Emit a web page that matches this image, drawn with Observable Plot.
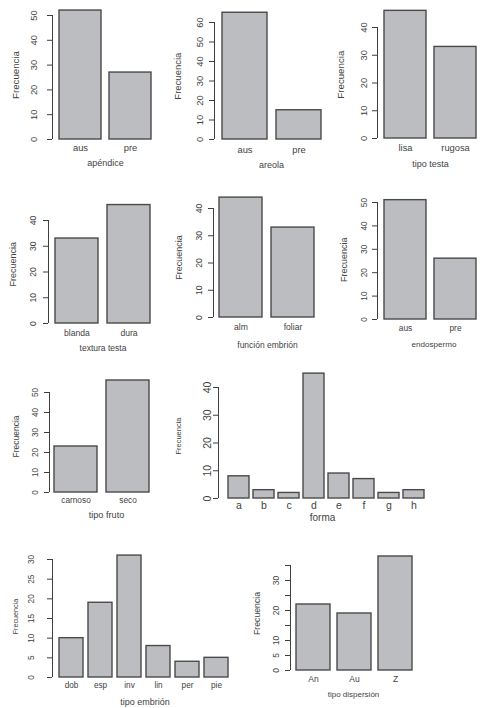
<!DOCTYPE html>
<html>
<head>
<meta charset="utf-8">
<script src="https://cdn.jsdelivr.net/npm/d3@7"></script>
<script src="https://cdn.jsdelivr.net/npm/@observablehq/plot@0.6"></script>
<style>
html, body { margin: 0; padding: 0; background: #fff; }
#page { position: relative; width: 492px; height: 708px; overflow: hidden; }
</style>
</head>
<body>
<div id="page"></div>
<script>
// ---- data ----
const yAxisTitle = "Frecuencia";

const apendiceTitle = "apéndice";
const apendiceCats = ["aus", "pre"];
const apendiceVals = [52, 27];
const apendiceTicks = [0, 10, 20, 30, 40, 50];

const areolaTitle = "areola";
const areolaCats = ["aus", "pre"];
const areolaVals = [65, 15];
const areolaTicks = [0, 10, 20, 30, 40, 50, 60];

const testaTitle = "tipo testa";
const testaCats = ["lisa", "rugosa"];
const testaVals = [46, 33];
const testaTicks = [0, 10, 20, 30, 40];

const texturaTitle = "textura testa";
const texturaCats = ["blanda", "dura"];
const texturaVals = [33, 46];
const texturaTicks = [0, 10, 20, 30, 40];

const funcionTitle = "función embrión";
const funcionCats = ["alm", "foliar"];
const funcionVals = [44, 33];
const funcionTicks = [0, 10, 20, 30, 40];

const endospermoTitle = "endospermo";
const endospermoCats = ["aus", "pre"];
const endospermoVals = [51, 26];
const endospermoTicks = [0, 10, 20, 30, 40, 50];

const frutoTitle = "tipo fruto";
const frutoCats = ["carnoso", "seco"];
const frutoVals = [23, 56];
const frutoTicks = [0, 10, 20, 30, 40, 50];

const formaTitle = "forma";
const formaCats = ["a", "b", "c", "d", "e", "f", "g", "h"];
const formaVals = [8, 3, 2, 45, 9, 7, 2, 3];
const formaTicks = [0, 10, 20, 30, 40];

const embrionTitle = "tipo embrión";
const embrionCats = ["dob", "esp", "inv", "lin", "per", "pie"];
const embrionVals = [10, 19, 31, 8, 4, 5];
const embrionTicks = [0, 5, 10, 15, 20, 25, 30];

const dispersionTitle = "tipo dispersión";
const dispersionCats = ["An", "Au", "Z"];
const dispersionVals = [22, 19, 38];
const dispersionTicks = [0, 5, 10, 15, 20, 25, 30, 35];
const dispersionTickLabels = [0, 5, 10, 20, 30];

// ---- layout (page pixels) ----
const W = 492, H = 708;
const FONT = "'Liberation Sans', Arial, Helvetica, sans-serif";
const panels = [
  {title: apendiceTitle, cats: apendiceCats, vals: apendiceVals, ticks: apendiceTicks,
   axisX: 52, y0: 139, k: 2.48, L: 59, R: 151, labDy: 8, titleDy: 24, titleDx: 0, ylabDx: -37, tickDx: 19, fs: 9.4, fsT: 9, fsY: 9.7},
  {title: areolaTitle, cats: areolaCats, vals: areolaVals, ticks: areolaTicks,
   axisX: 214, y0: 139, k: 1.95, L: 221, R: 321, labDy: 10, titleDy: 26, titleDx: 0, ylabDx: -37, tickDx: 15, fs: 9.4, fsT: 9, fsY: 9.5},
  {title: testaTitle, cats: testaCats, vals: testaVals, ticks: testaTicks,
   axisX: 377, y0: 138, k: 2.775, L: 384, R: 476, labDy: 10, titleDy: 26, titleDx: 0, ylabDx: -37, tickDx: 13, fs: 9.3, fsT: 9, fsY: 9.7},
  {title: texturaTitle, cats: texturaCats, vals: texturaVals, ticks: texturaTicks,
   axisX: 48, y0: 323, k: 2.575, L: 54, R: 151, labDy: 10, titleDy: 25, titleDx: 0, ylabDx: -35, tickDx: 15, fs: 8.6, fsT: 8.5, fsY: 9},
  {title: funcionTitle, cats: funcionCats, vals: funcionVals, ticks: funcionTicks,
   axisX: 213, y0: 317, k: 2.725, L: 219, R: 315, labDy: 10, titleDy: 28, titleDx: 0, ylabDx: -34, tickDx: 14, fs: 8.6, fsT: 8.5, fsY: 9},
  {title: endospermoTitle, cats: endospermoCats, vals: endospermoVals, ticks: endospermoTicks,
   axisX: 377, y0: 319, k: 2.34, L: 383, R: 476, labDy: 9, titleDy: 25, titleDx: 4, ylabDx: -33, tickDx: 13, fs: 8.4, fsT: 8.1, fsY: 9},
  {title: frutoTitle, cats: frutoCats, vals: frutoVals, ticks: frutoTicks,
   axisX: 49, y0: 492, k: 2.0, L: 54, R: 150, labDy: 8, titleDy: 23, titleDx: 4, ylabDx: -33, tickDx: 14, fs: 8.3, fsT: 9.2, fsY: 8.5},
  {title: formaTitle, cats: formaCats, vals: formaVals, ticks: formaTicks,
   axisX: 218, y0: 498, k: 2.775, L: 227, R: 425, labDy: 7, titleDy: 19, titleDx: -4, ylabDx: -40, tickDx: 11, fs: 10.5, fsT: 10, fsY: 7.5},
  {title: embrionTitle, cats: embrionCats, vals: embrionVals, ticks: embrionTicks,
   axisX: 52, y0: 677, k: 3.933, L: 58, R: 229, labDy: 8, titleDy: 25, titleDx: 1, ylabDx: -37, tickDx: 21, fs: 8.2, fsT: 9, fsY: 7.2},
  {title: dispersionTitle, cats: dispersionCats, vals: dispersionVals, ticks: dispersionTicks, tickLabels: dispersionTickLabels,
   axisX: 290, y0: 670, k: 3.0, L: 295, R: 413, labDy: 9, titleDy: 24, titleDx: -1, ylabDx: -33, tickDx: 14, fs: 8.5, fsT: 8, fsY: 8.7}
];

const page = document.getElementById("page");
const ink = "#3f3f3f";

for (const p of panels) {
  const data = p.cats.map((c, i) => ({cat: c, n: p.vals[i]}));
  const max = d3.max(p.vals);
  const top = p.y0 - p.k * max;
  const frameRight = p.R + (p.L - p.axisX);
  const center = (p.axisX + frameRight) / 2;
  const lastTick = d3.max(p.ticks);
  const fmt = p.tickLabels ? (d) => (p.tickLabels.includes(d) ? String(d) : "") : (d) => String(d);

  const svg = Plot.plot({
    width: W,
    height: H,
    marginLeft: p.axisX,
    marginRight: W - frameRight,
    marginTop: top,
    marginBottom: H - p.y0,
    style: {position: "absolute", left: "0px", top: "0px", background: "transparent",
            overflow: "visible", fontFamily: FONT, color: ink},
    x: {type: "band", domain: p.cats, range: [p.L, p.R], paddingInner: 1 / 6, paddingOuter: 0, align: 0.5},
    y: {domain: [0, max]},
    marks: [
      Plot.barY(data, {x: "cat", y: "n", fill: "#bcbdc1", stroke: "#4a4a4a", strokeWidth: 1.4}),
      Plot.ruleX([0], {x: null, y1: 0, y2: lastTick, dx: p.axisX - center, stroke: ink, strokeWidth: 1}),
      Plot.axisY(p.ticks, {tickSize: 5, tickRotate: -90, lineAnchor: "middle", textAnchor: "middle",
        tickPadding: p.tickDx - 5, tickFormat: fmt, label: null, fontSize: p.fs, stroke: ink, fill: ink}),
      Plot.axisX({tickSize: 0, tickPadding: p.labDy, lineAnchor: "middle", label: null, fontSize: p.fs, fill: ink}),
      Plot.text([p.title], {frameAnchor: "bottom", dx: p.titleDx, dy: p.titleDy, lineAnchor: "middle", fontSize: p.fsT, fill: ink}),
      Plot.text([yAxisTitle], {frameAnchor: "left", dx: p.ylabDx, rotate: -90, lineAnchor: "middle",
        textAnchor: "middle", fontSize: p.fsY, fill: ink})
    ]
  });
  page.appendChild(svg);
}
</script>
</body>
</html>
